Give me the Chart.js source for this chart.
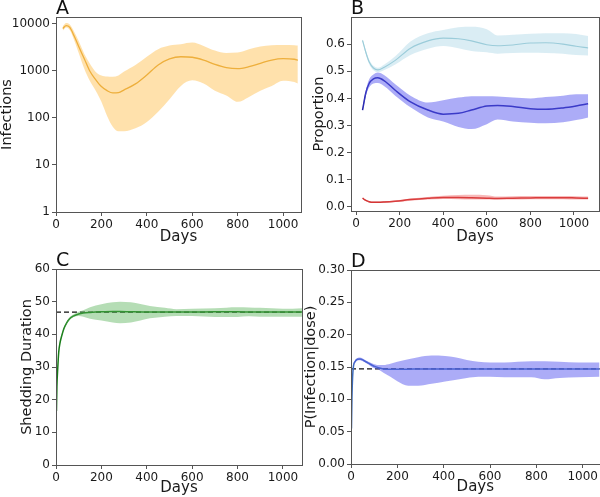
<!DOCTYPE html>
<html>
<head>
<meta charset="utf-8">
<script src="https://cdn.jsdelivr.net/npm/chart.js@4.4.1/dist/chart.umd.min.js"></script>
<style>
  body { margin: 0; background: #fff; }
  #wrap { position: relative; width: 600px; height: 497px; overflow: hidden; }
  canvas { position: absolute; background: #fff; }
</style>
</head>
<body>
<div id="wrap">
  <canvas id="chartA" width="302" height="250" style="left:0;top:0"></canvas>
  <canvas id="chartC" width="303" height="247" style="left:0;top:250px"></canvas>
  <canvas id="chartB" width="297" height="250" style="left:303px;top:0"></canvas>
  <canvas id="chartD" width="297" height="247" style="left:303px;top:250px"></canvas>
</div>
<script>
// ---- panel A: infections (log scale)
const infDays = [30, 45, 60, 80, 100, 125, 150, 175, 200, 225, 250, 275, 300, 350, 400, 450, 500, 550, 600, 650, 700, 750, 800, 850, 900, 950, 1000, 1050, 1065];
const infMean = [8000, 9200, 8500, 5500, 3300, 1800, 970, 650, 465, 380, 340, 345, 395, 530, 820, 1340, 1800, 2000, 1950, 1700, 1380, 1180, 1120, 1230, 1450, 1700, 1820, 1770, 1700];
const infUpper = [9000, 10500, 9800, 6800, 4300, 2300, 1400, 950, 800, 760, 750, 800, 970, 1340, 2000, 2900, 3460, 3700, 4000, 3400, 2700, 2400, 2450, 2900, 3300, 3500, 3550, 3500, 3450];
const infLower = [7200, 8400, 7500, 4500, 2400, 1100, 600, 380, 220, 110, 65, 52, 52, 60, 82, 135, 250, 480, 630, 540, 380, 300, 220, 280, 380, 480, 620, 580, 540];
const infTicks = [1, 10, 100, 1000, 10000];

// ---- panel B: proportions
const propDays = [30, 45, 60, 80, 100, 130, 180, 250, 330, 400, 470, 530, 600, 650, 720, 800, 870, 950, 1010, 1065];
const lightMean = [0.614, 0.57, 0.535, 0.512, 0.505, 0.515, 0.54, 0.585, 0.612, 0.622, 0.62, 0.612, 0.598, 0.594, 0.597, 0.604, 0.605, 0.6, 0.592, 0.586];
const lightUpper = [0.62, 0.577, 0.543, 0.52, 0.513, 0.525, 0.555, 0.61, 0.64, 0.652, 0.662, 0.664, 0.655, 0.632, 0.635, 0.638, 0.64, 0.64, 0.637, 0.63];
const lightLower = [0.608, 0.563, 0.527, 0.504, 0.497, 0.505, 0.525, 0.56, 0.583, 0.593, 0.585, 0.575, 0.57, 0.565, 0.567, 0.568, 0.567, 0.565, 0.56, 0.558];
const darkMean = [0.357, 0.42, 0.455, 0.472, 0.476, 0.465, 0.43, 0.387, 0.357, 0.342, 0.345, 0.357, 0.372, 0.374, 0.37, 0.362, 0.36, 0.365, 0.372, 0.38];
const darkUpper = [0.36, 0.43, 0.47, 0.488, 0.495, 0.485, 0.452, 0.41, 0.385, 0.393, 0.403, 0.408, 0.408, 0.407, 0.403, 0.4, 0.405, 0.41, 0.415, 0.415];
const darkLower = [0.352, 0.41, 0.44, 0.455, 0.457, 0.445, 0.41, 0.367, 0.33, 0.315, 0.295, 0.287, 0.305, 0.322, 0.315, 0.31, 0.308, 0.312, 0.32, 0.33];
const redMean = [0.032, 0.024, 0.019, 0.017, 0.017, 0.018, 0.021, 0.027, 0.032, 0.035, 0.035, 0.034, 0.032, 0.031, 0.032, 0.033, 0.034, 0.034, 0.033, 0.032];
const redUpper = [0.034, 0.026, 0.021, 0.019, 0.019, 0.02, 0.024, 0.031, 0.037, 0.041, 0.044, 0.045, 0.043, 0.038, 0.039, 0.04, 0.04, 0.04, 0.039, 0.038];
const redLower = [0.03, 0.022, 0.017, 0.015, 0.015, 0.016, 0.018, 0.023, 0.027, 0.029, 0.028, 0.027, 0.027, 0.027, 0.027, 0.028, 0.028, 0.028, 0.027, 0.027];
const propTicks = [0, 0.1, 0.2, 0.3, 0.4, 0.5, 0.6];

// ---- panel C: shedding duration
const shedDays = [2, 4, 8, 12, 18, 25, 35, 47, 60, 76, 100, 120, 150, 200, 250, 282, 330, 414, 480, 531, 600, 700, 800, 850, 900, 1000, 1084];
const shedMean = [16.5, 24, 30, 34.5, 37.5, 39.5, 41.8, 43.5, 44.8, 45.6, 46.2, 46.5, 46.7, 46.9, 47, 47, 46.9, 46.8, 46.8, 46.8, 46.8, 46.9, 46.9, 46.8, 46.8, 46.8, 46.8];
const shedUpper = [16.6, 24.1, 30.1, 34.6, 37.6, 39.7, 42, 43.8, 45.2, 46.1, 46.9, 47.4, 48.3, 49.2, 49.8, 50, 49.8, 48.7, 48.1, 47.7, 47.8, 48, 48.3, 48.2, 48.1, 47.8, 48];
const shedLower = [16.4, 23.9, 29.9, 34.4, 37.4, 39.3, 41.6, 43.2, 44.4, 45.2, 45.6, 45.4, 44.8, 44.2, 43.6, 43.4, 43.6, 44.9, 45.4, 45.6, 45.6, 45.3, 45.3, 45.5, 45.4, 45.4, 45.4];
const shedRef = 46.8;
const shedTicks = [0, 10, 20, 30, 40, 50, 60];

// ---- panel D: P(infection|dose)
const doseDays = [2, 4, 7, 11, 17, 28, 39, 55, 75, 95, 118, 140, 170, 200, 247, 290, 348, 406, 448, 500, 549, 600, 664, 720, 779, 836, 900, 980, 1073];
const doseMean = [0.055, 0.1, 0.135, 0.152, 0.158, 0.162, 0.1625, 0.16, 0.156, 0.152, 0.149, 0.147, 0.1465, 0.1465, 0.1465, 0.147, 0.147, 0.147, 0.147, 0.147, 0.147, 0.147, 0.147, 0.147, 0.147, 0.147, 0.147, 0.147, 0.147];
const doseUpper = [0.056, 0.101, 0.137, 0.154, 0.16, 0.164, 0.1645, 0.162, 0.158, 0.155, 0.153, 0.153, 0.155, 0.158, 0.162, 0.165, 0.1676, 0.167, 0.165, 0.161, 0.158, 0.157, 0.157, 0.158, 0.159, 0.159, 0.158, 0.157, 0.157];
const doseLower = [0.054, 0.099, 0.133, 0.15, 0.156, 0.16, 0.1605, 0.158, 0.154, 0.149, 0.146, 0.141, 0.135, 0.128, 0.121, 0.121, 0.124, 0.1275, 0.13, 0.133, 0.135, 0.135, 0.134, 0.134, 0.134, 0.131, 0.133, 0.134, 0.135];
const doseRef = 0.147;
const doseTicks = [0, 0.05, 0.1, 0.15, 0.2, 0.25, 0.3];

const dayTicks = [0, 200, 400, 600, 800, 1000];

const FONT = "'DejaVu Sans', sans-serif";
const INK = "#1a1a1a";
const EDGE = "#555";

function pts(xs, ys) {
  return xs.map((x, i) => ({ x: x, y: ys[i] }));
}

function band(xs, up, lo, color) {
  return [
    { data: pts(xs, up), fill: "+1", backgroundColor: color, borderWidth: 0, pointRadius: 0, cubicInterpolationMode: "monotone" },
    { data: pts(xs, lo), fill: false, borderWidth: 0, pointRadius: 0, cubicInterpolationMode: "monotone" },
  ];
}

function line(xs, ys, color, width) {
  return { data: pts(xs, ys), fill: false, borderColor: color, borderWidth: width, pointRadius: 0, cubicInterpolationMode: "monotone" };
}

function dashed(x0, x1, y) {
  return { data: [{ x: x0, y: y }, { x: x1, y: y }], fill: false, borderColor: "#111", borderWidth: 1.3, borderDash: [5, 3], pointRadius: 0 };
}

// frame round the plot + panel letter
const framePlugin = {
  id: "frame",
  afterDraw(chart, args, opts) {
    const { ctx, chartArea: a } = chart;
    ctx.save();
    ctx.strokeStyle = EDGE;
    ctx.lineWidth = 1;
    ctx.strokeRect(Math.round(a.left) + 0.5, Math.round(a.top) + 0.5, Math.round(a.right - a.left), Math.round(a.bottom - a.top));
    ctx.fillStyle = "#111";
    ctx.font = "19px " + FONT;
    ctx.textBaseline = "alphabetic";
    ctx.fillText(opts.letter, a.left, a.top - 3);
    ctx.restore();
  },
};

function xAxis(min, max, height, titlePad) {
  return {
    type: "linear",
    min: min,
    max: max,
    afterBuildTicks: (s) => { s.ticks = dayTicks.map((v) => ({ value: v })); },
    afterFit: (s) => { s.height = height; },
    grid: { display: true, drawOnChartArea: false, drawTicks: true, tickLength: 4, color: EDGE },
    border: { display: true, color: EDGE },
    ticks: { font: { family: FONT, size: 12 }, color: INK, padding: 2, maxRotation: 0, autoSkip: false, callback: (v) => String(v) },
    title: { display: true, text: "Days", color: INK, font: { family: FONT, size: 15, lineHeight: 1 }, padding: { top: 0, bottom: titlePad } },
  };
}

function yAxis(type, min, max, tickList, fmt, width, title, titlePad) {
  return {
    type: type,
    min: min,
    max: max,
    afterBuildTicks: (s) => { s.ticks = tickList.map((v) => ({ value: v })); },
    afterFit: (s) => { s.width = width; },
    grid: { display: true, drawOnChartArea: false, drawTicks: true, tickLength: 4, color: EDGE },
    border: { display: true, color: EDGE },
    ticks: { font: { family: FONT, size: 12 }, color: INK, padding: 2, autoSkip: false, callback: fmt },
    title: { display: true, text: title, color: INK, font: { family: FONT, size: 14.5, lineHeight: 1 }, padding: { top: titlePad, bottom: 0 } },
  };
}

function makeChart(id, letter, datasets, xScale, yScale, padding) {
  return new Chart(document.getElementById(id), {
    type: "line",
    data: { datasets: datasets },
    options: {
      responsive: false,
      animation: false,
      devicePixelRatio: 1,
      layout: { padding: padding },
      plugins: { legend: { display: false }, tooltip: { enabled: false }, frame: { letter: letter } },
      scales: { x: xScale, y: yScale },
    },
    plugins: [framePlugin],
  });
}

makeChart(
  "chartA", "A",
  [...band(infDays, infUpper, infLower, "rgba(255,195,90,0.5)"), line(infDays, infMean, "#dc9a1e", 1.3)],
  xAxis(0, 1079, 38, 5),
  yAxis("logarithmic", 1, 14000, infTicks, (v) => String(v), 56, "Infections", 0),
  { top: 17, right: 1, left: 0, bottom: 0 }
);

makeChart(
  "chartB", "B",
  [
    ...band(propDays, lightUpper, lightLower, "rgba(173,216,230,0.45)"),
    line(propDays, lightMean, "#8cc3cf", 1.1),
    ...band(propDays, darkUpper, darkLower, "rgba(90,90,240,0.5)"),
    line(propDays, darkMean, "#1a1aa0", 1.5),
    ...band(propDays, redUpper, redLower, "rgba(240,100,100,0.45)"),
    line(propDays, redMean, "#c81e1e", 1.5),
  ],
  xAxis(-23, 1115, 39, 5),
  yAxis("linear", -0.015, 0.70, propTicks, (v) => v.toFixed(1), 48, "Proportion", 8.5),
  { top: 17, right: 1, left: 0, bottom: 0 }
);

makeChart(
  "chartC", "C",
  [...band(shedDays, shedUpper, shedLower, "rgba(90,180,90,0.45)"), line(shedDays, shedMean, "#157a15", 1.5), dashed(0, 1100, shedRef)],
  xAxis(0, 1084, 32, 1.5),
  yAxis("linear", 0, 60, shedTicks, (v) => String(v), 56, "Shedding Duration", 19.5),
  { top: 19, right: 1, left: 0, bottom: 0 }
);

makeChart(
  "chartD", "D",
  [...band(doseDays, doseUpper, doseLower, "rgba(90,90,240,0.5)"), line(doseDays, doseMean, "#3c6cb8", 1.5), dashed(0, 1100, doseRef)],
  xAxis(0, 1073, 33, 2.5),
  yAxis("linear", 0, 0.3, doseTicks, (v) => v.toFixed(2), 48, "P(Infection|dose)", 1),
  { top: 20, right: 0, left: 0, bottom: 0 }
);
</script>
</body>
</html>
